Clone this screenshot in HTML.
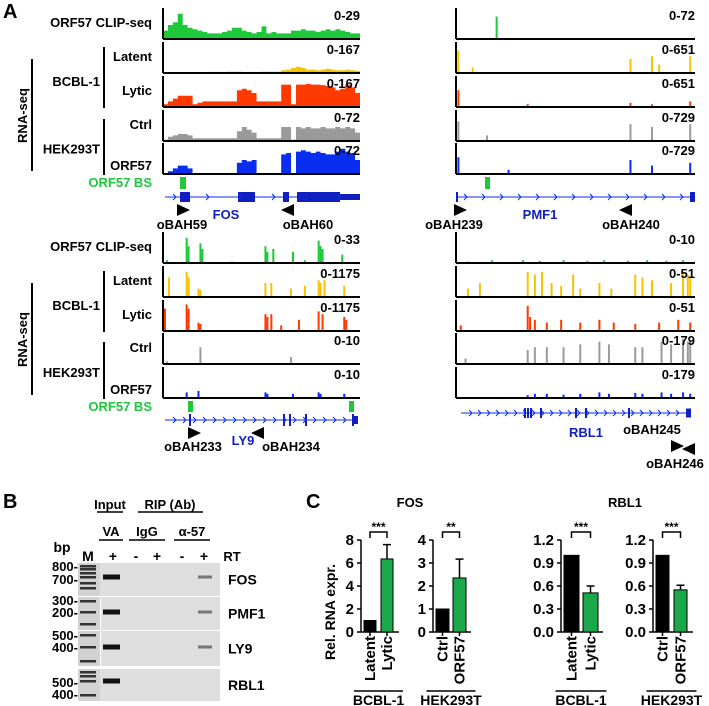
<!DOCTYPE html>
<html><head><meta charset="utf-8"><style>
html,body{margin:0;padding:0;background:#fff}
svg{display:block}
text{font-family:"Liberation Sans",Arial,sans-serif;font-weight:bold}
</style></head><body>
<svg id="fig" width="709" height="706" viewBox="0 0 709 706" xmlns="http://www.w3.org/2000/svg">
<g id="static">
<text x="3" y="18" font-size="20">A</text>
<text x="3" y="508" font-size="20">B</text>
<text x="306" y="508" font-size="20">C</text>
</g>
<g id="tracks"></g>
<g id="gel"></g>
<g id="bars"></g>
</svg>
<script>
// ---------- coverage data (relative heights 0-1) ----------
const fosClip=[.3,.5,.6,.9,.5,.4,.35,.3,.25,.2,.2,.2,.25,.3,.4,.4,.3,.25,.2,.25,.45,.2,.25,.2,.2,.2,.3,.3,.35,.3,.3,.25,.3,.35,.3,.35,.3,.25,.2,.2];
const fosLatent=[.02,.03,.03,.02,.02,.02,.03,.03,.03,.04,.04,.04,.04,.05,.05,.05,.04,.04,.04,.04,.05,.05,.05,.05,.1,.12,.18,.22,.18,.12,.12,.1,.12,.15,.12,.1,.1,.12,.1,.08];
const fosLytic=[.1,.2,.3,.4,.4,.4,.1,.15,.2,.2,.2,.2,.2,.2,.2,.6,.65,.6,.5,.2,.2,.2,.2,.2,.8,.8,.1,.8,.8,.82,.8,.8,.78,.75,.7,.6,.65,.8,.7,.5];
const fosCtrl=[.05,.15,.2,.25,.25,.2,.1,.1,.1,.1,.1,.1,.1,.1,.1,.35,.5,.4,.3,.1,.1,.1,.1,.1,.5,.5,.05,.5,.45,.5,.45,.45,.5,.45,.45,.5,.45,.5,.45,.3];
const fosOrf57=[0,.1,.2,.3,.3,.2,0,0,0,0,0,0,0,0,0,.4,.5,.45,.5,0,0,0,0,0,.7,.75,0,.8,.85,.8,.75,.8,.75,.7,.7,.8,.9,.8,.75,.5];
// spikes: positions (0-1) and heights
const pmfClipPos=[.17],pmfClipH=[.8];
const pmfLatPos=[.01,.07,.73,.82,.85,.98],pmfLatH=[.8,.2,.5,.6,.3,.6];
const pmfLytPos=[.01,.3,.73,.82,.98],pmfLytH=[.6,.1,.15,.1,.2];
const pmfCtrlPos=[.01,.13,.73,.82,.98],pmfCtrlH=[.7,.2,.6,.5,.6];
const pmfOrfPos=[.01,.22,.73,.82,.98],pmfOrfH=[.6,.15,.5,.3,.4];
const ly9ClipPos=[.02,.12,.13,.19,.2,.35,.52,.53,.56,.66,.72,.79,.8,.81,.91],ly9ClipH=[.1,.9,.6,.7,.5,.05,.6,.4,.5,.4,.1,.8,.6,.5,.3];
const ly9LatPos=[.03,.12,.13,.18,.19,.52,.55,.65,.72,.79,.8,.82,.92],ly9LatH=[.7,.9,.7,.3,.25,.5,.5,.3,.4,.6,.5,.6,.4];
const ly9LytPos=[.01,.12,.13,.18,.19,.52,.53,.55,.6,.69,.79,.81,.92,.93],ly9LytH=[.8,.95,.8,.3,.25,.6,.5,.6,.2,.4,.7,.6,.5,.4];
const ly9CtrlPos=[.02,.19,.65],ly9CtrlH=[.1,.6,.25];
const ly9OrfPos=[.12,.18,.52,.53,.66,.79,.8,.92],ly9OrfH=[.2,.25,.2,.15,.15,.2,.15,.15];
const rbClipPos=[.05,.15,.28,.35,.45,.55,.62,.72,.8,.88,.95],rbClipH=[.05,.1,.1,.08,.1,.08,.1,.08,.1,.08,.1];
const rbLatPos=[.05,.1,.3,.33,.36,.4,.44,.49,.52,.6,.65,.75,.78,.82,.9,.95,.97,.98],rbLatH=[.3,.5,.9,.8,.9,.5,.4,.8,.3,.5,.3,.8,.7,.6,.5,.9,.8,.7];
const rbLytPos=[.02,.3,.31,.33,.38,.44,.52,.6,.66,.75,.85,.93,.98],rbLytH=[.2,.9,.5,.4,.3,.4,.3,.4,.3,.25,.3,.4,.3];
const rbCtrlPos=[.04,.3,.33,.38,.45,.52,.6,.64,.75,.78,.86,.9,.95,.97,.98],rbCtrlH=[.2,.5,.6,.6,.6,.7,.8,.7,.6,.6,.8,.7,.9,.8,.85];
const rbOrfPos=[.3,.33,.38,.45,.52,.6,.64,.75,.78,.86,.9,.95,.98],rbOrfH=[.1,.15,.15,.12,.15,.2,.15,.18,.15,.2,.15,.2,.15];
// ---------- bar chart data ----------
const fosBcblCats=["Latent","Lytic"],fosBcblVals=[1,6.35],fosBcblErr=[0,1.25];
const fosHekCats=["Ctrl","ORF57"],fosHekVals=[1,2.35],fosHekErr=[0,0.82];
const rbBcblCats=["Latent","Lytic"],rbBcblVals=[1,0.51],rbBcblErr=[0,0.09];
const rbHekCats=["Ctrl","ORF57"],rbHekVals=[1,0.55],rbHekErr=[0,0.06];
const fosTicks=[0,2,4,6,8],fosHekTicks=[0,1,2,3,4],rbTicks=["0.0","0.3","0.6","0.9","1.2"];

const NS="http://www.w3.org/2000/svg";
function mk(tag,attrs,parent,txt){const e=document.createElementNS(NS,tag);for(const k in attrs)e.setAttribute(k,attrs[k]);if(txt!==undefined)e.textContent=txt;parent.appendChild(e);return e;}
const T=document.getElementById('tracks');

function areaTrack(x0,x1,base,h,vals,color,name){
  const n=vals.length,w=(x1-x0)/n;let d=`M${x0},${base}`;
  vals.forEach((v,i)=>{const y=base-v*h;d+=` L${x0+i*w},${y} L${x0+(i+1)*w},${y}`;});
  d+=` L${x1},${base} Z`;
  const p=mk('path',{d:d,fill:color},T);
  
  
}
function spikeTrack(x0,x1,base,h,pos,hs,color,name){
  const g=mk('g',{},T);
  
  
  pos.forEach((p,i)=>{const x=x0+p*(x1-x0);mk('rect',{x:x-1,y:base-hs[i]*h,width:2,height:hs[i]*h,fill:color},g);});
}
function axes(x0,x1,base,h,label,name){
  const g=mk('g',{},T);
  
  
  mk('line',{x1:x0,y1:base-h,x2:x0,y2:base,stroke:'#000','stroke-width':2},g);
  mk('line',{x1:x0,y1:base,x2:x1,y2:base,stroke:'#000','stroke-width':2},g);
  mk('text',{x:x1,y:base-h+12,'font-size':13,'text-anchor':'end'},g,label);
}
function txt(x,y,s,size,anchor,color,name,extra){
  const t=mk('text',Object.assign({x:x,y:y,'font-size':size,'text-anchor':anchor||'start',fill:color||'#000'},extra||{}),T,s);
  
  
  return t;
}
const GREEN='#1ec83a',YEL='#f7c300',RED='#ff3a00',GRAY='#9a9a9a',BLUE='#0a2ef0',DB='#1020c0';
const colors=[GREEN,YEL,RED,GRAY,BLUE];
const trackH=28;

function leftLabels(bases,prefix){
  txt(152,bases[0]-12,'ORF57 CLIP-seq',13,'end','#000',prefix+'-clip-label');
  txt(152,bases[1]-12,'Latent',13,'end','#000',prefix+'-latent-label');
  txt(152,bases[2]-12,'Lytic',13,'end','#000',prefix+'-lytic-label');
  txt(152,bases[3]-12,'Ctrl',13,'end','#000',prefix+'-ctrl-label');
  txt(152,bases[4]-4,'ORF57',13,'end','#000',prefix+'-orf57-label');
  const bc=(bases[1]+bases[2])/2-8, hc=(bases[3]+bases[4])/2-8;
  txt(100,bc+4,'BCBL-1',13,'end','#000',prefix+'-bcbl-label');
  txt(100,hc+4,'HEK293T',13,'end','#000',prefix+'-hek-label');
  mk('line',{x1:104,y1:bases[1]-26,x2:104,y2:bases[2]+1,stroke:'#000','stroke-width':2},T);
  mk('line',{x1:104,y1:bases[3]-22,x2:104,y2:bases[4]+1,stroke:'#000','stroke-width':2},T);
  mk('line',{x1:32,y1:bases[1]-14,x2:32,y2:bases[4]-3,stroke:'#000','stroke-width':2},T);
  const rc=(bases[1]+bases[4])/2-8;
  txt(27,rc,'RNA-seq',13,'middle','#000',prefix+'-rnaseq-label',{transform:`rotate(-90 27 ${rc})`});
  txt(152,bases[4]+13,'ORF57 BS',13,'end',GREEN,prefix+'-bs-label');
}
function gene(x0,x1,y,exons,name,chev){
  const g=mk('g',{},T);
  
  
  mk('line',{x1:x0,y1:y,x2:x1,y2:y,stroke:BLUE,'stroke-width':1},g);
  exons.forEach(e=>mk('rect',{x:e[0],y:y-e[2]/2,width:e[1]-e[0],height:e[2],fill:DB},g));
  for(let x=x0+10;x<x1-5;x+=chev){mk('path',{d:`M${x-2},${y-3} L${x+1},${y} L${x-2},${y+3}`,stroke:BLUE,fill:'none','stroke-width':1},g);}
}
function arrowR(x,y,name){const p=mk('path',{d:`M${x-6},${y-6} L${x+7},${y} L${x-6},${y+6} Z`,fill:'#000'},T);}
function arrowL(x,y,name){const p=mk('path',{d:`M${x+6},${y-6} L${x-7},${y} L${x+6},${y+6} Z`,fill:'#000'},T);}

// TOP block
const topB=[39,73,107,141,174];
const LX0=163,LX1=360,RX0=456,RX1=695;
const fosData=[fosClip,fosLatent,fosLytic,fosCtrl,fosOrf57];
const fosLab=['0-29','0-167','0-167','0-72','0-72'];
const pmfPos=[pmfClipPos,pmfLatPos,pmfLytPos,pmfCtrlPos,pmfOrfPos],pmfH=[pmfClipH,pmfLatH,pmfLytH,pmfCtrlH,pmfOrfH];
const pmfLab=['0-72','0-651','0-651','0-729','0-729'];
const trk=['clip','latent','lytic','ctrl','orf57'];
topB.forEach((b,i)=>{
  areaTrack(LX0,LX1,b,trackH,fosData[i],colors[i],'fos-'+trk[i]+'-coverage');
  axes(LX0,LX1,b,31,fosLab[i],'fos-'+trk[i]+'-axis');
  spikeTrack(RX0,RX1,b,trackH,pmfPos[i],pmfH[i],colors[i],'pmf1-'+trk[i]+'-coverage');
  axes(RX0,RX1,b,31,pmfLab[i],'pmf1-'+trk[i]+'-axis');
});
leftLabels(topB,'top');
mk('rect',{x:180,y:177,width:6,height:12,fill:GREEN},T);
mk('rect',{x:485,y:177,width:5,height:12,fill:GREEN},T);
gene(165,360,197,[[180,190,10],[238,255,10],[283,289,10],[297,340,10],[340,360,6]],'fos-gene-model',33);
gene(456,695,197,[[456,458,10],[690,695,10]],'pmf1-gene-model',18);
arrowR(183,210,'oBAH59-arrow');arrowL(288,210,'oBAH60-arrow');
txt(182,229,'oBAH59',13,'middle','#000','oBAH59-label');
txt(226,219,'FOS',13,'middle',DB,'fos-gene-label');
txt(308,229,'oBAH60',13,'middle','#000','oBAH60-label');
arrowR(460,210,'oBAH239-arrow');arrowL(626,210,'oBAH240-arrow');
txt(454,229,'oBAH239',13,'middle','#000','oBAH239-label');
txt(540,219,'PMF1',13,'middle',DB,'pmf1-gene-label');
txt(631,229,'oBAH240',13,'middle','#000','oBAH240-label');

// BOTTOM block
const botB=[263,297,331,364,398];
const ly9Pos=[ly9ClipPos,ly9LatPos,ly9LytPos,ly9CtrlPos,ly9OrfPos],ly9H=[ly9ClipH,ly9LatH,ly9LytH,ly9CtrlH,ly9OrfH];
const ly9Lab=['0-33','0-1175','0-1175','0-10','0-10'];
const rbPos=[rbClipPos,rbLatPos,rbLytPos,rbCtrlPos,rbOrfPos],rbH=[rbClipH,rbLatH,rbLytH,rbCtrlH,rbOrfH];
const rbLab=['0-10','0-51','0-51','0-179','0-179'];
botB.forEach((b,i)=>{
  spikeTrack(LX0,LX1,b,trackH,ly9Pos[i],ly9H[i],colors[i],'ly9-'+trk[i]+'-coverage');
  axes(LX0,LX1,b,31,ly9Lab[i],'ly9-'+trk[i]+'-axis');
  spikeTrack(RX0,RX1,b,trackH,rbPos[i],rbH[i],colors[i],'rbl1-'+trk[i]+'-coverage');
  axes(RX0,RX1,b,31,rbLab[i],'rbl1-'+trk[i]+'-axis');
});
leftLabels(botB,'bottom');
mk('rect',{x:188,y:401,width:5,height:11,fill:GREEN},T);
mk('rect',{x:349,y:401,width:5,height:11,fill:GREEN},T);
gene(165,358,420,[[189,191,12],[283,285,12],[289,291,12],[305,307,12],[352,354,12],[354,358,8]],'ly9-gene-model',10);
gene(461,690,413,[[524,526,10],[527,529,10],[530,532,10],[540,542,10],[575,577,10],[585,587,10],[628,630,10],[686,691,9]],'rbl1-gene-model',9);
arrowR(194,433,'oBAH233-arrow');arrowL(258,433,'oBAH234-arrow');
txt(193,451,'oBAH233',13,'middle','#000','oBAH233-label');
txt(243,445,'LY9',13,'middle',DB,'ly9-gene-label');
txt(291,451,'oBAH234',13,'middle','#000','oBAH234-label');
txt(586,437,'RBL1',13,'middle',DB,'rbl1-gene-label');
txt(652,434,'oBAH245',13,'middle','#000','oBAH245-label');
arrowR(677,446,'oBAH245-arrow');arrowL(689,449,'oBAH246-arrow');
txt(675,468,'oBAH246',13,'middle','#000','oBAH246-label');

// ---------- Panel B gel ----------
const G=document.getElementById('gel');
function gt(x,y,s,anchor,name,size){const t=mk('text',{x:x,y:y,'font-size':size||13,'text-anchor':anchor||'middle'},G,s);}
gt(110,509,'Input','middle','input-header');
gt(170,509,'RIP (Ab)','middle','rip-header');
mk('line',{x1:97,y1:512,x2:123,y2:512,stroke:'#000','stroke-width':1.5},G);
mk('line',{x1:138,y1:512,x2:203,y2:512,stroke:'#000','stroke-width':1.5},G);
gt(111,536,'VA','middle','va-header');gt(147,536,'IgG','middle','igg-header');gt(192,536,'α-57','middle','a57-header');
[[99,123],[129,165],[174,210]].forEach(a=>mk('line',{x1:a[0],y1:540,x2:a[1],y2:540,stroke:'#000','stroke-width':1.5},G));
gt(62,552,'bp','middle','bp-label',14);
const lanes=[{s:'M',x:88},{s:'+',x:113},{s:'-',x:136},{s:'+',x:157},{s:'-',x:182},{s:'+',x:204}];
lanes.forEach((l,i)=>gt(l.x,561,l.s,'middle','lane-'+i+'-header',14));
gt(232,561,'RT','middle','rt-label');
const gels=[{n:'FOS',y:563,h:33,b:[577],mk:[566,569,573,577,583,588],m:[['800-',567],['700-',580]],div:false},
 {n:'PMF1',y:597,h:33,b:[612],mk:[601,612,624],m:[['300-',601],['200-',613]],div:true},
 {n:'LY9',y:631,h:35,b:[647],mk:[635,647,661],m:[['500-',636],['400-',648]],div:true},
 {n:'RBL1',y:669,h:32,b:[681],mk:[672,676,681,695],m:[['500-',683],['400-',695]],div:false}];
gels.forEach(gl=>{
  const g=mk('g',{},G);
  
  
  mk('rect',{x:78,y:gl.y,width:142,height:gl.h,fill:'#dedede'},g);
  mk('rect',{x:78,y:gl.y,width:22,height:gl.h,fill:'#d2d2d2'},g);
  if(gl.div)mk('line',{x1:100.5,y1:gl.y,x2:100.5,y2:gl.y+gl.h,stroke:'#fff','stroke-width':1},g);
  gl.mk.forEach(my=>mk('rect',{x:80,y:my-1,width:16,height:2.5,fill:'#333'},g));
  gl.b.forEach(by=>{mk('rect',{x:103,y:by-2.5,width:17,height:5,fill:'#111'},g);if(gl.n!=='RBL1')mk('rect',{x:198,y:by-1.5,width:14,height:3,fill:'#777'},g);});
  const t=mk('text',{x:228,y:gl.y+gl.h/2+5,'font-size':14},G,gl.n);
  
  
  gl.m.forEach((m,j)=>gt(78,m[1]+4,m[0],'end','marker-'+gl.n.toLowerCase()+'-'+j));
});

// ---------- Panel C bars ----------
const B=document.getElementById('bars');
const Y0=632,YH=92;
function bt(x,y,s,anchor,name,size,extra){const t=mk('text',Object.assign({x:x,y:y,'font-size':size||13,'text-anchor':anchor||'middle'},extra||{}),B,s);return t;}
bt(410,507,'FOS','middle','fos-chart-title',13);
bt(625,507,'RBL1','middle','rbl1-chart-title',13);
bt(335,612,'Rel. RNA expr.','middle','y-axis-title',14,{transform:'rotate(-90 335 612)'});
function chart(ax,max,ticks,cats,vals,errs,bw,gap,stars,group,name){
  const y=v=>Y0-v/max*YH;
  const g=mk('g',{},B);
  
  
  mk('line',{x1:ax,y1:y(max),x2:ax,y2:Y0,stroke:'#000','stroke-width':1.5},g);
  ticks.forEach(tk=>{const v=parseFloat(tk);mk('line',{x1:ax-4,y1:y(v),x2:ax,y2:y(v),stroke:'#000','stroke-width':1.5},g);
    const t=mk('text',{x:ax-7,y:y(v)+5,'font-size':15,'text-anchor':'end'},g,String(tk));});
  const x1=ax+4+(bw+gap)*cats.length;
  mk('line',{x1:ax,y1:Y0,x2:x1,y2:Y0,stroke:'#000','stroke-width':1.5},g);
  const cx=[];
  cats.forEach((c,i)=>{
    const bx=ax+3+i*(bw+gap);cx.push(bx+bw/2);
    const r=mk('rect',{x:bx,y:y(vals[i]),width:bw,height:Y0-y(vals[i]),fill:i?'#1aa84a':'#000',stroke:'#000','stroke-width':1},g);
    
    
    if(errs[i]>0){mk('line',{x1:bx+bw/2,y1:y(vals[i]),x2:bx+bw/2,y2:y(vals[i]+errs[i]),stroke:'#000','stroke-width':1.5},g);
      mk('line',{x1:bx+bw/2-4,y1:y(vals[i]+errs[i]),x2:bx+bw/2+4,y2:y(vals[i]+errs[i]),stroke:'#000','stroke-width':1.5},g);}
    mk('line',{x1:bx+bw/2,y1:Y0,x2:bx+bw/2,y2:Y0+4,stroke:'#000','stroke-width':1.5},g);
    const tx=bx+bw/2+5;
    const t=mk('text',{x:tx,y:Y0+4,'font-size':15,'text-anchor':'end',transform:`rotate(-90 ${tx} ${Y0+4})`},g,c);
    
  });
  const by=Y0-YH-8;
  mk('path',{d:`M${cx[0]},${by+6} L${cx[0]},${by} L${cx[1]},${by} L${cx[1]},${by+6}`,stroke:'#000',fill:'none','stroke-width':1.5},g);
  const s=mk('text',{x:(cx[0]+cx[1])/2,y:by-1,'font-size':12,'text-anchor':'middle'},g,stars);
  
  const gx=(cx[0]+cx[1])/2;
  mk('line',{x1:cx[0]-16,y1:691,x2:cx[1]+16,y2:691,stroke:'#000','stroke-width':1.5},g);
  const gtx=mk('text',{x:gx,y:705,'font-size':14,'text-anchor':'middle'},g,group);
  
}
chart(361,8,fosTicks,fosBcblCats,fosBcblVals,fosBcblErr,12,5,'***','BCBL-1','fos-bcbl1-chart');
chart(433,4,fosHekTicks,fosHekCats,fosHekVals,fosHekErr,13,4,'**','HEK293T','fos-hek293t-chart');
chart(561,1.2,rbTicks,rbBcblCats,rbBcblVals,rbBcblErr,15,4,'***','BCBL-1','rbl1-bcbl1-chart');
chart(653,1.2,rbTicks,rbHekCats,rbHekVals,rbHekErr,13,5,'***','HEK293T','rbl1-hek293t-chart');
</script>
</body></html>
